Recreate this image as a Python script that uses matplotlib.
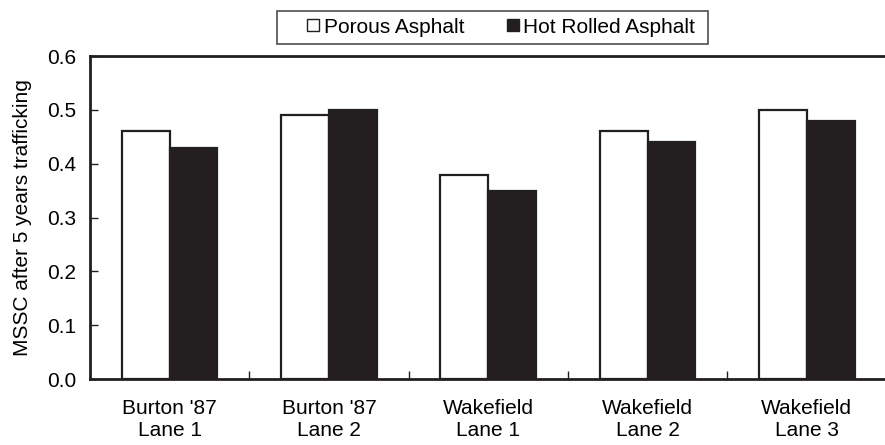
import matplotlib.pyplot as plt
import matplotlib.patches as mpatches
from matplotlib.legend_handler import HandlerPatch
import numpy as np

categories = ["Burton '87\nLane 1", "Burton '87\nLane 2", "Wakefield\nLane 1",
              "Wakefield\nLane 2", "Wakefield\nLane 3"]
porous = [0.46, 0.49, 0.38, 0.46, 0.50]
hot_rolled = [0.43, 0.50, 0.35, 0.44, 0.48]
yticks = [0.0, 0.1, 0.2, 0.3, 0.4, 0.5, 0.6]

plt.rcParams['font.family'] = ['Liberation Sans', 'DejaVu Sans']
ink = '#231f20'

fig = plt.figure(figsize=(8.85, 4.45), dpi=100)
ax = fig.add_axes([0.1017, 0.148, 0.9, 0.726])

x = np.arange(len(categories))
w = 0.3
b1 = ax.bar(x - w / 2, porous, w, color='white', edgecolor=ink, linewidth=1.6)
b2 = ax.bar(x + w / 2, hot_rolled, w, color=ink, edgecolor=ink, linewidth=1.6)

ax.set_xlim(-0.5, len(categories) - 0.5)
ax.set_ylim(0, 0.6)
ax.set_yticks(yticks)
ax.set_yticklabels([f'{v:.1f}' for v in yticks], fontsize=15)
ax.set_xticks(x)
ax.set_xticklabels(categories, fontsize=15, linespacing=1.2)
ax.set_xticks(np.arange(len(categories)) + 0.5, minor=True)
ax.tick_params(axis='x', which='major', length=0, pad=14)
ax.tick_params(axis='x', which='minor', direction='in', length=6, width=1, color=ink)
ax.tick_params(axis='y', direction='in', length=6, width=1, color=ink, pad=10)

for s in ['left', 'bottom', 'top']:
    ax.spines[s].set_linewidth(2)
    ax.spines[s].set_color(ink)
ax.spines['right'].set_visible(False)

ax.set_ylabel('MSSC after 5 years trafficking', fontsize=15, labelpad=11)


# small square legend marker sitting at the right end of the handle box
def small_square(legend, orig_handle, xdescent, ydescent, width, height, fontsize):
    s = 12 * 72 / fig.dpi
    return mpatches.Rectangle((-xdescent + width - s, -ydescent + (height - s) / 2 + 0.5),
                              s, s)


leg = fig.legend([b1.patches[0], b2.patches[0]],
                 ['Porous Asphalt', 'Hot Rolled Asphalt '],
                 loc='center', bbox_to_anchor=(0.5565, 0.938), ncol=2,
                 frameon=True, fancybox=False, edgecolor=ink, fontsize=15,
                 handler_map={mpatches.Rectangle: HandlerPatch(patch_func=small_square)},
                 handlelength=1.7, handleheight=0.7, handletextpad=0.2,
                 columnspacing=0.95, borderpad=0.35)
leg.get_frame().set_linewidth(1.2)
for p in leg.get_patches():
    p.set_linewidth(1.0)

fig.savefig('out.png', dpi=100)
